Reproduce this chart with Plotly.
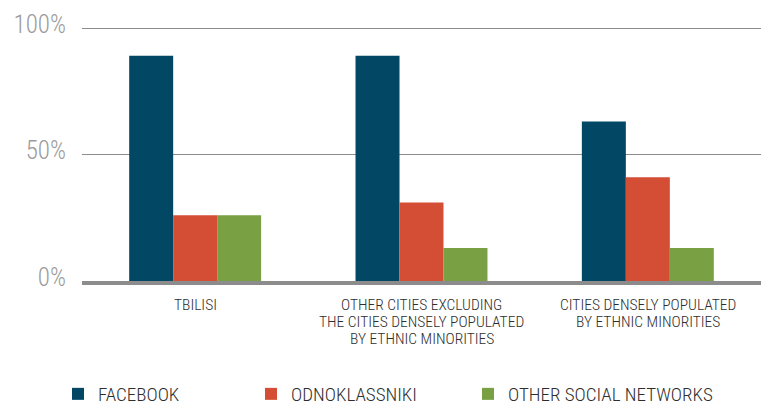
import plotly.graph_objects as go

categories = ["TBILISI", "OTHER CITIES", "ETHNIC MINORITY CITIES"]
category_labels = [
    ["TBILISI"],
    ["OTHER CITIES EXCLUDING", "THE CITIES DENSELY POPULATED", "BY ETHNIC MINORITIES"],
    ["CITIES DENSELY POPULATED", "BY ETHNIC MINORITIES"],
]
series_names = ["FACEBOOK", "ODNOKLASSNIKI", "OTHER SOCIAL NETWORKS"]
facebook = [89, 89, 63]
odnoklassniki = [26, 31, 41]
other_networks = [26, 13, 13]
colors = ["#024864", "#d34e34", "#79a043"]
y_tick_vals = [0, 50, 100]
y_tick_text = ["0%", "50%", "100%"]

FONT = "Roboto Condensed"
W, H = 761, 407

legend_names = ["legend", "legend2", "legend3"]
legend_left_px = [58, 251, 468]

fig = go.Figure()
for name, vals, col, lg in zip(series_names, [facebook, odnoklassniki, other_networks], colors, legend_names):
    fig.add_trace(go.Bar(x=categories, y=vals, name=name, marker_color=col,
                         marker_line_width=0, legend=lg))

# multi-line category labels with tight line spacing
for cat, lines in zip(categories, category_labels):
    for i, line in enumerate(lines):
        fig.add_annotation(x=cat, y=0, xref="x", yref="y", showarrow=False,
                           text=line, xanchor="center", yanchor="middle",
                           yshift=-24 - 17 * i, borderpad=0,
                           font=dict(family=FONT, size=15.5, color="#2e2e2e", weight=300))

legend_common = dict(orientation="h", xref="container", yref="container",
                     xanchor="left", yanchor="middle", y=1 - 394 / H,
                     bgcolor="rgba(0,0,0,0)",
                     font=dict(family=FONT, size=19, color="#2e2e2e", weight=300))
legend_layout = {}
for lg, px in zip(legend_names, legend_left_px):
    legend_layout[lg] = dict(legend_common, x=px / W)

fig.update_layout(
    width=W, height=H,
    margin=dict(l=82, r=0, t=27, b=126),
    plot_bgcolor="white", paper_bgcolor="white",
    barmode="group", bargap=0.417, bargroupgap=0,
    showlegend=True,
    xaxis=dict(
        showgrid=False, showticklabels=False, ticks="", automargin=False,
        showline=True, linecolor="#8c8c8c", linewidth=4, layer="above traces",
    ),
    yaxis=dict(
        range=[0, 100.4], tickvals=y_tick_vals, ticktext=y_tick_text,
        showgrid=True, gridcolor="#8c8c8c", gridwidth=1,
        zeroline=False, showline=False, ticks="", automargin=False,
        ticklabelstandoff=15, ticklabelshift=-4,
        tickfont=dict(family=FONT, size=25, color="#9b9b9b", weight=300),
    ),
    **legend_layout,
)

fig.write_html("out.html", config={"displayModeBar": False},
               post_script="document.body.style.margin='0';")
